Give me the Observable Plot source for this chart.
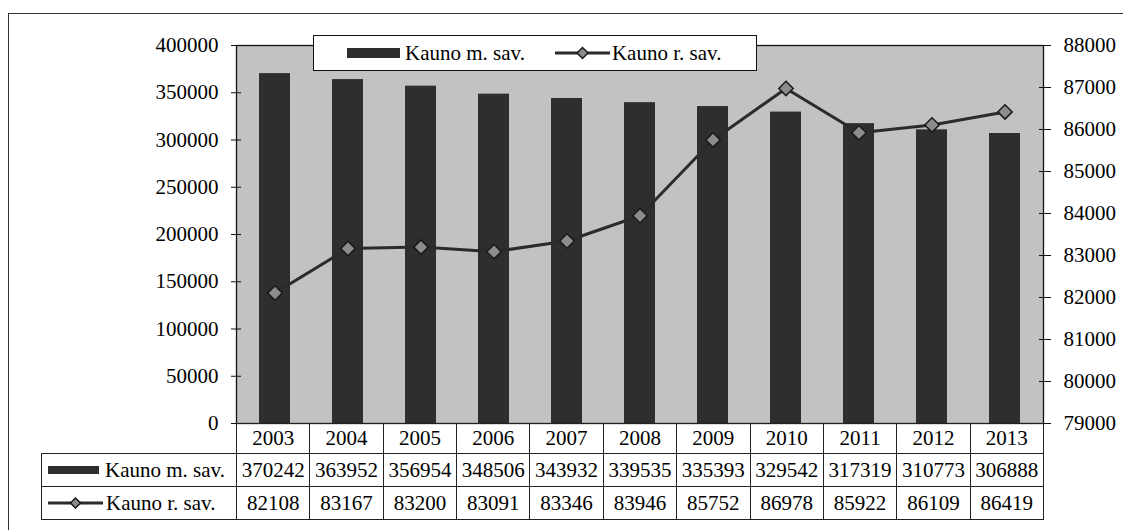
<!DOCTYPE html>
<html>
<head>
<meta charset="utf-8">
<script src="https://cdn.jsdelivr.net/npm/d3@7"></script>
<script src="https://cdn.jsdelivr.net/npm/@observablehq/plot@0.6"></script>
<style>
  body { margin: 0; background: #fff; font-family: "Liberation Serif", "Times New Roman", serif; color: #000; }
  #wrap { position: relative; width: 1123px; height: 530px; overflow: hidden; }
  #frame { position: absolute; left: 8px; top: 13px; width: 1200px; height: 600px; border-top: 1.5px solid #333; border-left: 1.5px solid #333; }
  #chart { position: absolute; left: 0; top: 0; }
  #legend { position: absolute; left: 313px; top: 35px; width: 442px; height: 34px; border: 1px solid #111; background: #fff;
            display: flex; align-items: center; font-size: 21px; white-space: nowrap; }
  #legend .sw-bar { display: inline-block; width: 53px; height: 10px; background: #2e2e2e; margin-left: 33px; margin-right: 5px; }
  #legend .sw-line { margin-left: 30px; margin-right: 2px; }
  table { position: absolute; left: 41px; top: 423px; border-collapse: collapse; table-layout: fixed; font-size: 21px; }
  td { border: 1px solid #222; padding: 0; text-align: center; line-height: 1; white-space: nowrap; overflow: hidden; }
  td.blank { border: none; }
  td.lab { text-align: left; padding-left: 6px; }
  tr.r1 { height: 30px; }
  tr.r2, tr.r3 { height: 33px; }
  .tsw-bar { display: inline-block; width: 51px; height: 8px; background: #2e2e2e; margin-right: 6px; vertical-align: 3px; }
  .tsw-line { vertical-align: 1px; margin-right: 3px; }
</style>
</head>
<body>
<div id="wrap">
  <div id="frame"></div>
  <div id="chart"></div>
  <div id="legend"></div>
  <table id="tbl"></table>
</div>
<script>
// ---- data ----
const years = [2003, 2004, 2005, 2006, 2007, 2008, 2009, 2010, 2011, 2012, 2013];
const cityName = "Kauno m. sav.";
const districtName = "Kauno r. sav.";
const cityValues = [370242, 363952, 356954, 348506, 343932, 339535, 335393, 329542, 317319, 310773, 306888];
const districtValues = [82108, 83167, 83200, 83091, 83346, 83946, 85752, 86978, 85922, 86109, 86419];
const leftTicks = [0, 50000, 100000, 150000, 200000, 250000, 300000, 350000, 400000];
const rightTicks = [79000, 80000, 81000, 82000, 83000, 84000, 85000, 86000, 87000, 88000];

// ---- styles ----
const barColor = "#2e2e2e";
const bgColor = "#c2c2c2";
const lineColor = "#2b2b2b";
const markerFill = "#8c8c8c";

const lMax = leftTicks[leftTicks.length - 1];
const rMin = rightTicks[0], rMax = rightTicks[rightTicks.length - 1];
const toLeft = v => (v - rMin) / (rMax - rMin) * lMax;
const fromLeft = d => String(Math.round(rMin + d / lMax * (rMax - rMin)));

const data = years.map((y, i) => ({year: String(y), city: cityValues[i], district: districtValues[i]}));

const chart = Plot.plot({
  width: 1123, height: 425,
  marginLeft: 236, marginRight: 80, marginTop: 45, marginBottom: 2,
  style: {fontFamily: "'Liberation Serif', 'Times New Roman', serif", fontSize: "21px", color: "#000", background: "transparent", overflow: "visible"},
  x: {type: "band", domain: years.map(String), paddingInner: 0.58, paddingOuter: 0.29, axis: null},
  y: {domain: [0, lMax], axis: null},
  marks: [
    Plot.frame({fill: bgColor, stroke: "none"}),
    Plot.barY(data, {x: "year", y: "city", fill: barColor}),
    Plot.lineY(data, {x: "year", y: d => toLeft(d.district), stroke: lineColor, strokeWidth: 3}),
    Plot.dot(data, {x: "year", y: d => toLeft(d.district), symbol: "diamond2", r: 6.5, fill: markerFill, stroke: "#1a1a1a", strokeWidth: 1.5}),
    Plot.frame({stroke: "#111", strokeWidth: 1.3}),
    Plot.axisY({ticks: leftTicks, anchor: "left", tickSize: 10, dx: 5, tickFormat: () => "", label: null, stroke: "#111"}),
    Plot.axisY({ticks: leftTicks, anchor: "left", tickSize: 0, tickPadding: 18, tickFormat: d => String(d), label: null}),
    Plot.axisY({ticks: rightTicks.map(toLeft), anchor: "right", tickSize: 12, dx: -5, tickFormat: () => "", label: null, stroke: "#111"}),
    Plot.axisY({ticks: rightTicks.map(toLeft), anchor: "right", tickSize: 0, tickPadding: 20, tickFormat: fromLeft, label: null})
  ]
});
document.getElementById("chart").appendChild(chart);

// ---- legend ----
const lineSwatch = (w, h, r, cls) =>
  `<svg class="${cls}" width="${w}" height="${h}"><line x1="0" y1="${h/2}" x2="${w}" y2="${h/2}" stroke="${lineColor}" stroke-width="3"/>` +
  `<path d="M${w/2} ${h/2 - r} L${w/2 + r} ${h/2} L${w/2} ${h/2 + r} L${w/2 - r} ${h/2} Z" fill="${markerFill}" stroke="#1a1a1a" stroke-width="1.5"/></svg>`;

document.getElementById("legend").innerHTML =
  `<span class="sw-bar"></span><span>${cityName}</span>` +
  lineSwatch(55, 14, 5.5, "sw-line") + `<span>${districtName}</span>`;

// ---- data table ----
const step = 807 / years.length;
let html = `<colgroup><col style="width:195px">` + years.map(() => `<col style="width:${step}px">`).join("") + `</colgroup>`;
html += `<tr class="r1"><td class="blank"></td>` + years.map(y => `<td>${y}</td>`).join("") + `</tr>`;
html += `<tr class="r2"><td class="lab"><span class="tsw-bar"></span>${cityName}</td>` + cityValues.map(v => `<td>${v}</td>`).join("") + `</tr>`;
html += `<tr class="r3"><td class="lab">${lineSwatch(55, 12, 5, "tsw-line")}${districtName}</td>` + districtValues.map(v => `<td>${v}</td>`).join("") + `</tr>`;
const tbl = document.getElementById("tbl");
tbl.innerHTML = html;
tbl.style.width = (195 + 807) + "px";
</script>
</body>
</html>
